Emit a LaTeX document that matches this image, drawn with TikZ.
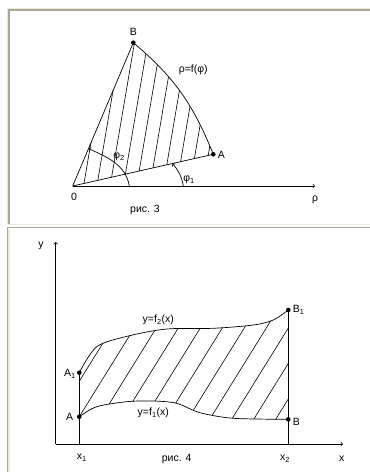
\documentclass[tikz,border=0pt]{standalone}
\usepackage{fontspec}
\setmainfont{Liberation Sans}
\definecolor{panellight}{HTML}{ECE9D8}
\definecolor{paneldark}{HTML}{ACA899}
\tikzset{
  pt/.style={circle,fill=black,inner sep=0pt,minimum size=4.6pt},
  lbl/.style={inner sep=1pt,font=\fontsize{10.5}{12}\selectfont},
  hatch/.style={line width=0.6pt},
  frame/.style={line width=1.5pt},
}
\begin{document}
\begin{tikzpicture}[x=1pt,y=1pt,line width=0.7pt]
\useasboundingbox (0,0) rectangle (370,472);
%frames
\draw[frame,panellight] (7.6,247.3) -- (7.6,463.4) -- (370,463.4);
\draw[frame,paneldark] (9.1,248) -- (9.1,461.8) -- (370,461.8);
\draw[frame,panellight] (7,247.3) -- (370,247.3);
\draw[frame,paneldark] (7,244.3) -- (370,244.3);
\draw[frame,paneldark] (7.7,0) -- (7.7,244.3);
\draw[frame,panellight] (9.2,0) -- (9.2,243);
%picture 3: polar
\coordinate (O) at (72.7,286);
\coordinate (rho) at (315,286);
\node[pt] (A) at (213.3,317.7) {};
\node[pt] (B) at (133.3,429.3) {};
\begin{scope}
\clip (O) -- (B.center) to[out=-40,in=112] (A.center) -- cycle;
\foreach \k in {0,...,9}
  \draw[hatch] ({84+13.8*\k},{286+(11.3+13.8*\k)*0.2255}) ++(-3.4,-20) -- ++(34,200);
\end{scope}
\draw (O) -- (A.center);
\draw (O) -- (B.center);
\draw (B.center) to[out=-40,in=112] (A.center); %rho=f(phi)
\draw[->] (O) -- (rho);
%angles
\coordinate (p1s) at (183.3,286);
\coordinate (p1e) at (172.5,308.5);
\coordinate (p2s) at (129.3,286);
\coordinate (p2e) at (88.5,323.5);
\draw[->] (p1s) to[out=100,in=-50] (p1e);
\draw[->] (p2s) to[out=100,in=-25] (p2e);
\node[lbl] (Blbl) at (133.3,440.5) {B};
\node[lbl,anchor=west] (Albl) at (216.5,317.5) {A};
\node[lbl] (flbl) at (193.3,402) {ρ=f(φ)};
\node[lbl] (phi2) at (119,315.3) {φ\textsubscript{2}};
\node[lbl] (phi1) at (189,292) {φ\textsubscript{1}};
\node[lbl] (zero) at (74,275.3) {0};
\node[lbl] (rholbl) at (315,272) {ρ};
\node[lbl] (fig3) at (145,262) {рис. 3};
%picture 4: cartesian
\coordinate (org) at (55.7,28);
\coordinate (yend) at (55.7,230);
\coordinate (xend) at (343,28);
\coordinate (x1) at (79.3,28);
\coordinate (x2) at (288.3,28);
\node[pt] (A0) at (79.3,55.3) {};
\node[pt] (A1) at (79.3,99.3) {};
\node[pt] (B0) at (288.3,52.7) {};
\node[pt] (B1) at (288.3,162) {};
\begin{scope}
\clip plot[smooth] coordinates {(79.3,99.3) (96.7,125.3) (128.3,136) (166.7,143) (213.3,143.7) (253.3,147) (273.3,152) (288.3,162)}
  -- plot[smooth] coordinates {(288.3,52.7) (233.3,53.7) (200,59.3) (176.7,68.7) (153.3,71) (126.7,70.3) (96.7,65.3) (79.3,55.3)} -- cycle;
\foreach \k in {-3,...,10}
  \draw[hatch] ({79.3+22*\k},55.3) ++(-12.4,-20) -- ++(111.6,180);
\end{scope}
\draw[->] (org) -- (yend);
\draw[->] (org) -- (xend);
\draw (x1) -- (A1.center);
\draw (x2) -- (B1.center);
\draw plot[smooth] coordinates {(79.3,99.3) (96.7,125.3) (128.3,136) (166.7,143) (213.3,143.7) (253.3,147) (273.3,152) (288.3,162)}; %f2
\draw plot[smooth] coordinates {(79.3,55.3) (96.7,65.3) (126.7,70.3) (153.3,71) (176.7,68.7) (200,59.3) (233.3,53.7) (288.3,52.7)}; %f1
\node[lbl] (ylbl) at (41,226) {y};
\node[lbl,anchor=east] (A1lbl) at (77,98) {A\textsubscript{1}};
\node[lbl,anchor=east] (A0lbl) at (74.5,55) {A};
\node[lbl,anchor=west] (B1lbl) at (291.5,162) {B\textsubscript{1}};
\node[lbl,anchor=west] (B0lbl) at (291.5,50.5) {B};
\node[lbl] (f2lbl) at (158.3,152) {y=f\textsubscript{2}(x)};
\node[lbl] (f1lbl) at (153.3,59.3) {y=f\textsubscript{1}(x)};
\node[lbl] (x1lbl) at (81.7,14) {x\textsubscript{1}};
\node[lbl] (x2lbl) at (285,13) {x\textsubscript{2}};
\node[lbl] (xlbl) at (341.7,13) {x};
\node[lbl] (fig4) at (176.7,13) {рис. 4};
\end{tikzpicture}
\end{document}
